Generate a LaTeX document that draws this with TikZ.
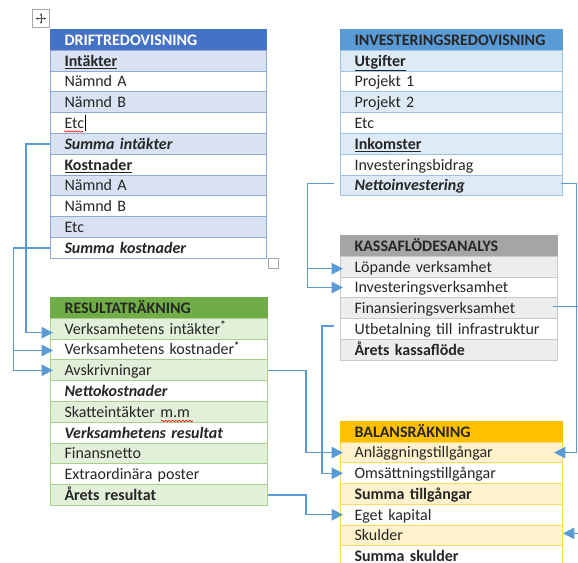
\documentclass[tikz,border=0pt]{standalone}
\usepackage{fontspec}
\setmainfont{Carlito}
\usetikzlibrary{arrows.meta,calc,decorations.pathmorphing}
\definecolor{dhead}{HTML}{4472C4}\definecolor{dshade}{HTML}{D9E2F3}\definecolor{dborder}{HTML}{8EAADB}
\definecolor{ihead}{HTML}{5B9BD5}\definecolor{ishade}{HTML}{DEEAF6}\definecolor{iborder}{HTML}{9CC2E5}
\definecolor{khead}{HTML}{A5A5A5}\definecolor{kshade}{HTML}{EDEDED}\definecolor{kborder}{HTML}{C9C9C9}
\definecolor{rhead}{HTML}{70AD47}\definecolor{rshade}{HTML}{E2EFD9}\definecolor{rborder}{HTML}{A8D08D}
\definecolor{bhead}{HTML}{FFC000}\definecolor{bshade}{HTML}{FFF2CC}\definecolor{bborder}{HTML}{FFD966}
\definecolor{conncol}{HTML}{5B9BD5}
\definecolor{txt}{HTML}{262626}
\newcommand\cellfont{\fontsize{12}{14}\selectfont}
\tikzset{
  cell/.style={anchor=north west, draw, line width=0.75pt, minimum height=15.6pt,
    inner xsep=10.5pt, inner ysep=0pt, text height=10pt, text depth=2pt,
    align=left, font=\cellfont, text=txt},
  hdr/.style={font=\cellfont\bfseries},
  dc/.style={cell, draw=dborder, text width=141pt},
  dh/.style={dc, hdr, fill=dhead, draw=dhead, text=white},
  ds/.style={dc, fill=dshade}, dw/.style={dc, fill=white},
  ic/.style={cell, draw=iborder, text width=145.5pt},
  ih/.style={ic, hdr, fill=ihead, draw=ihead},
  is/.style={ic, fill=ishade}, iw/.style={ic, fill=white},
  kc/.style={cell, draw=kborder, text width=141.75pt},
  kh/.style={kc, hdr, fill=khead, draw=khead},
  ks/.style={kc, fill=kshade}, kw/.style={kc, fill=white},
  rc/.style={cell, draw=rborder, text width=141.75pt},
  rh/.style={rc, hdr, fill=rhead, draw=rhead},
  rs/.style={rc, fill=rshade}, rw/.style={rc, fill=white},
  bc/.style={cell, draw=bborder, text width=145.5pt},
  bh/.style={bc, hdr, fill=bhead, draw=bhead},
  bs/.style={bc, fill=bshade}, bw/.style={bc, fill=white},
  conn/.style={draw=conncol, line width=1.15pt, -{Triangle[length=8.5pt,width=8.5pt]}, conncol},
  squig/.style={draw=red, line width=0.45pt, decorate, decoration={snake, amplitude=0.55pt, segment length=2.6pt}},
  handle/.style={draw=black!35, line width=0.75pt, fill=white}
}
\begin{document}
\begin{tikzpicture}[x=0.75pt,y=-0.75pt]
\useasboundingbox (0,0) rectangle (578,563);
\clip (0,0) rectangle (578,563);

% DRIFTREDOVISNING
\foreach \i/\nm/\st/\tx in {
  0/d0/dh/DRIFTREDOVISNING,
  1/d1/ds/{\underline{\textbf{Intäkter}}},
  2/d2/dw/Nämnd A,
  3/d3/ds/Nämnd B,
  4/d4/dw/Etc,
  5/d5/ds/{\textbf{\textit{Summa intäkter}}},
  6/d6/dw/{\underline{\textbf{Kostnader}}},
  7/d7/ds/Nämnd A,
  8/d8/dw/Nämnd B,
  9/d9/ds/Etc,
  10/d10/dw/{\textbf{\textit{Summa kostnader}}}}
  \node[\st] (\nm) at (50,{29+\i*20.8}) {\tx};

% INVESTERINGSREDOVISNING
\foreach \i/\nm/\st/\tx in {
  0/i0/ih/INVESTERINGSREDOVISNING,
  1/i1/is/{\underline{\textbf{Utgifter}}},
  2/i2/iw/Projekt 1,
  3/i3/is/Projekt 2,
  4/i4/iw/Etc,
  5/i5/is/{\underline{\textbf{Inkomster}}},
  6/i6/iw/Investeringsbidrag,
  7/i7/is/{\textbf{\textit{Nettoinvestering}}}}
  \node[\st] (\nm) at (340,{29+\i*20.8}) {\tx};

% KASSAFLÖDESANALYS
\foreach \i/\nm/\st/\tx in {
  0/k0/kh/KASSAFLÖDESANALYS,
  1/k1/ks/Löpande verksamhet,
  2/k2/kw/Investeringsverksamhet,
  3/k3/ks/Finansieringsverksamhet,
  4/k4/kw/Utbetalning till infrastruktur,
  5/k5/ks/{\textbf{Årets kassaflöde}}}
  \node[\st] (\nm) at (340,{235+\i*20.8}) {\tx};

% RESULTATRÄKNING
\foreach \i/\nm/\st/\tx in {
  0/r0/rh/RESULTATRÄKNING,
  1/r1/rs/{Verksamhetens intäkter\textsuperscript{\textbf{*}}},
  2/r2/rw/{Verksamhetens kostnader\textsuperscript{\textbf{*}}},
  3/r3/rs/Avskrivningar,
  4/r4/rw/{\textbf{\textit{Nettokostnader}}},
  5/r5/rs/Skatteintäkter m.m,
  6/r6/rw/{\textbf{\textit{Verksamhetens resultat}}},
  7/r7/rs/Finansnetto,
  8/r8/rw/Extraordinära poster,
  9/r9/rs/{\textbf{Årets resultat}}}
  \node[\st] (\nm) at (50,{297+\i*20.8}) {\tx};

% BALANSRÄKNING
\foreach \i/\nm/\st/\tx in {
  0/b0/bh/BALANSRÄKNING,
  1/b1/bs/Anläggningstillgångar,
  2/b2/bw/Omsättningstillgångar,
  3/b3/bs/{\textbf{Summa tillgångar}},
  4/b4/bw/Eget kapital,
  5/b5/bs/Skulder,
  6/b6/bw/{\textbf{Summa skulder}}}
  \node[\st] (\nm) at (340,{421+\i*20.7}) {\tx};

% spelling marks and cursor
\draw[squig] (64,131.5) -- (83,131.5);
\draw[black, line width=0.6pt] (85,115) -- (85,131);
\draw[squig] (161,421) -- (193,421);

% table handles
\node[handle, anchor=north west, minimum width=12.75pt, minimum height=13.5pt, inner sep=0pt] (mv) at (32,9) {};
\draw[black!70, line width=0.5pt, {Latex[length=1.8pt,width=2pt]}-{Latex[length=1.8pt,width=2pt]}] ($(mv.center)+(-5.5,0)$) -- ($(mv.center)+(5.5,0)$);
\draw[black!70, line width=0.5pt, {Latex[length=1.8pt,width=2pt]}-{Latex[length=1.8pt,width=2pt]}] ($(mv.center)+(0,-5.5)$) -- ($(mv.center)+(0,5.5)$);
\node[handle, anchor=north west, minimum width=7.5pt, minimum height=7.5pt, inner sep=0pt] (rsz) at (268,258) {};

% connectors
\draw[conn] (d5.west) -- ++(-24,0) |- ($(r1.west)+(3,4)$);
\draw[conn] (d10.west) -- ++(-36.5,0) |- ($(r2.west)+(3,1)$);
\draw[conn] (d10.west) -- ++(-36.5,0) |- ($(r3.west)+(3,0)$);
\draw[conn] ($(i7.west)+(-6,-2)$) -- ++(-26.5,0) |- ($(k1.west)+(3,2)$);
\draw[conn] ($(i7.west)+(-6,-2)$) -- ++(-26.5,0) |- ($(k2.west)+(3,0)$);
\draw[conn] ($(i7.east)+(-2,-2)$) -- ++(15.5,0) |- ($(b1.east)+(-9,0)$);
\draw[conn] ($(k3.east)+(-5,-2)$) -- ++(33,0) |- ($(b5.east)+(0,-2)$);
\draw[conn] ($(k4.west)+(-6,-3)$) -- ++(-12,0) |- ($(b2.west)+(3,0)$);
\draw[conn] (r3.east) -- ++(38,0) |- ($(b1.west)+(3,0)$);
\draw[conn] (r9.east) -- ++(38,0) |- ($(b4.west)+(3,0)$);
\end{tikzpicture}
\end{document}
